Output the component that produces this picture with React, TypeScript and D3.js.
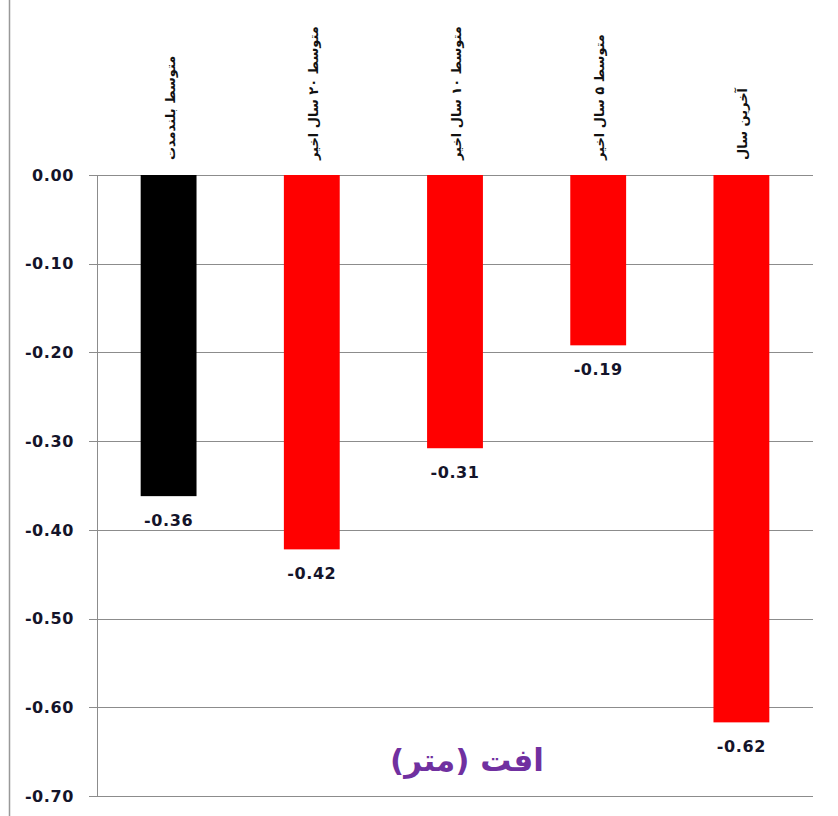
import React from "react";
import * as d3 from "d3";

const categories = ["متوسط بلندمدت", "متوسط ۲۰ سال اخیر", "متوسط ۱۰ سال اخیر", "متوسط ۵ سال اخیر", "آخرین سال"];
const values = [-0.362, -0.422, -0.308, -0.192, -0.617];
const labels = ["-0.36", "-0.42", "-0.31", "-0.19", "-0.62"];
const colors = ["#000000", "#ff0000", "#ff0000", "#ff0000", "#ff0000"];
const yTicks = [0, -0.1, -0.2, -0.3, -0.4, -0.5, -0.6, -0.7];
const title = "افت (متر)";

const W = 838, H = 816;
const left = 97, right = 813, top = 175, bottom = 796;

export default function App() {
  const x = d3.scaleBand<string>().domain(categories).range([left, right]).paddingInner(0.61).paddingOuter(0.305);
  const y = d3.scaleLinear().domain([0, -0.7]).range([top, bottom]);
  const font = "'DejaVu Sans', Verdana, sans-serif";
  return (
    <svg width={W} height={H} style={{ position: "absolute", left: 0, top: 0, background: "#fff" }}>
      <line x1={9.5} x2={9.5} y1={0} y2={H} stroke="#999" strokeWidth={1.5} />
      {yTicks.map((t, i) => (
        <g key={i}>
          <line x1={89} x2={right} y1={Math.round(y(t)) + 0.5} y2={Math.round(y(t)) + 0.5} stroke="#8c8c8c" strokeWidth={1} />
          <text x={74} y={y(t)} dy="0.36em" textAnchor="end" fontFamily={font} fontWeight="bold" fontSize={16} letterSpacing={0.6} fill="#14142a">
            {t.toFixed(2)}
          </text>
        </g>
      ))}
      <line x1={left + 0.5} x2={left + 0.5} y1={top} y2={bottom} stroke="#8c8c8c" strokeWidth={1} />
      {categories.map((c, i) => {
        const bx = x(c)!;
        const bw = x.bandwidth();
        const y0 = y(0), y1 = y(values[i]);
        const cx = bx + bw / 2;
        return (
          <g key={c}>
            <rect x={bx} y={y0} width={bw} height={y1 - y0} fill={colors[i]} />
            <text x={cx} y={y1 + 30} textAnchor="middle" fontFamily={font} fontWeight="bold" fontSize={16} letterSpacing={0.6} fill="#14142a">
              {labels[i]}
            </text>
            <text transform={`translate(${cx + 6},160) rotate(-90)`} textAnchor="start" fontFamily={font} fontWeight="bold" fontSize={13} fill="#111">
              {c}
            </text>
          </g>
        );
      })}
      <text x={467} y={771} textAnchor="middle" fontFamily={font} fontWeight="bold" fontSize={31} fill="#7030a0">
        {title}
      </text>
    </svg>
  );
}
